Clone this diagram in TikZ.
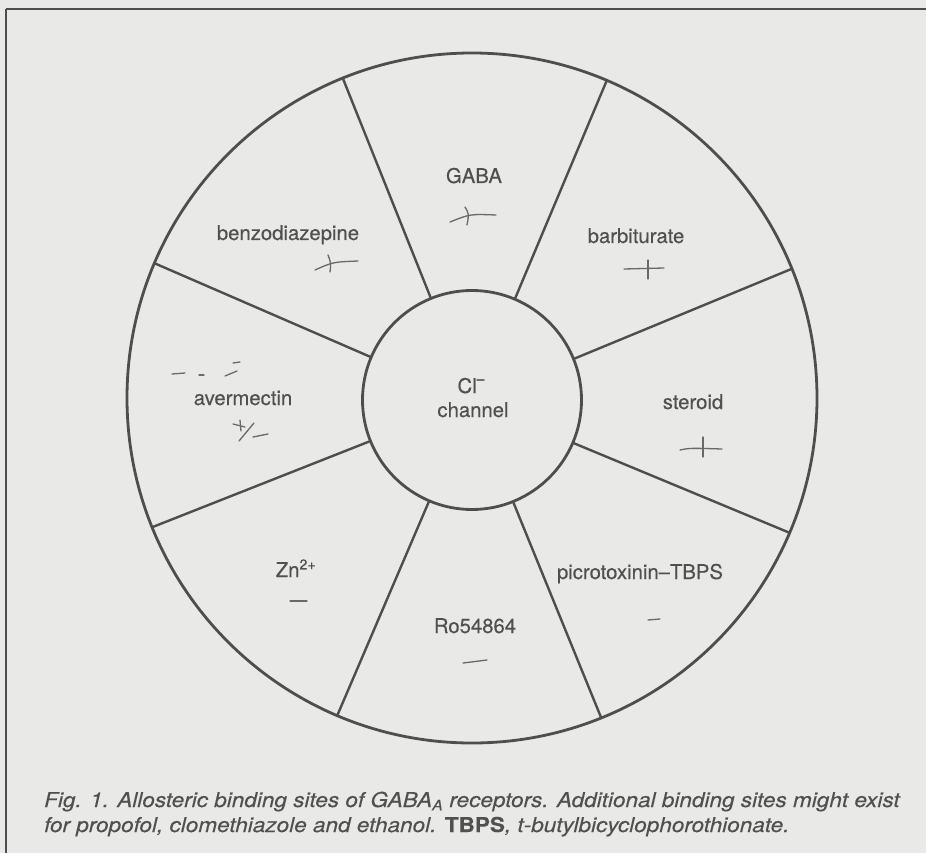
\documentclass[tikz,border=0pt]{standalone}
\usepackage{fontspec}
\setmainfont{TeX Gyre Heros}
\newfontfamily\labelfont[FakeBold=0.35]{TeX Gyre Heros}
\newfontfamily\capfont[FakeStretch=1.1,FakeBold=0.3]{TeX Gyre Heros}
\begin{document}
\definecolor{paper}{RGB}{233,233,231}
\definecolor{ink}{RGB}{78,78,78}
\definecolor{txt}{RGB}{80,80,80}
\definecolor{pencil}{RGB}{105,105,105}
\begin{tikzpicture}[x=1pt,y=-1pt,
  ring/.style={circle,draw=ink,line width=2.8pt,inner sep=0pt,outer sep=0pt},
  spoke/.style={draw=ink,line width=2.4pt},
  site/.style={text=txt,font=\labelfont\fontsize{20.3}{23}\selectfont,inner sep=0pt,anchor=base},
  caption/.style={text=txt,font=\capfont\fontsize{20.5}{24}\selectfont\itshape,inner sep=0pt,anchor=base west},
  pen/.style={draw=pencil,line width=1.3pt,line cap=round}]
% page and frame
\fill[paper] (0,0) rectangle (926,853);
\useasboundingbox (0,0) rectangle (926,853);
\draw[ink,line width=2.6pt] (6,9) -- (926,9);
\draw[ink,line width=1.6pt] (6,9) -- (6,853);

% receptor rings
\node[ring,minimum size=690pt] (outer) at (472,398) {};
\node[ring,minimum size=219pt] (inner) at (472,400) {};

% sector boundaries
\foreach \a in {22.5,67.5,112.5,157.5,202.5,247.5,292.5,337.5}
  \draw[spoke] (inner.\a) -- (outer.\a);

% channel
\node[site] (cl) at (471,393) {Cl\raisebox{0.45em}{\fontsize{14}{14}\selectfont –}};
\node[site] (chan) at (473,417) {channel};

% binding sites
\node[site] (gaba) at (474,183) {GABA};
\node[site] (benzo) at (288,240) {benzodiazepine};
\node[site] (barb) at (636,243) {barbiturate};
\node[site] (ster) at (693,409) {steroid};
\node[site] (aver) at (243,405) {avermectin};
\node[site] (zn) at (296,577) {Zn\textsuperscript{2+}};
\node[site] (ro) at (475,633) {Ro54864};
\node[site] (picro) at (640,579) {picrotoxinin–TBPS};

% pencilled effects
\draw[pen] (450,222) .. controls (470,214) .. (496,215);
\draw[pen] (465,207) .. controls (469,214) .. (467,225);
\draw[pen] (315,270) .. controls (333,262) .. (358,261);
\draw[pen] (328,255) .. controls (331,263) .. (330,272);
\draw[pen] (624,269) -- (664,268);
\draw[pen] (648,260) -- (648,279);
\draw[pen] (680,450) .. controls (690,448) .. (722,449);
\draw[pen] (703,437) -- (703,457);
\draw[pen] (172,374) -- (185,373);
\draw[pen] (199,375) -- (204,375);
\draw[pen] (225,376) .. controls (231,374) .. (237,371);
\draw[pen] (233,363) -- (240,362);
\draw[pen] (233,424) -- (245,427);
\draw[pen] (240,420) -- (241,431);
\draw[pen] (239,441) -- (254,423);
\draw[pen] (253,437) -- (268,434);
\draw[pen] (290,601) -- (307,601);
\draw[pen] (463,663) .. controls (475,661) .. (487,660);
\draw[pen] (648,620) -- (660,619);

% caption
\node[caption] (cap1) at (44,807) {Fig. 1. Allosteric binding sites of GABA\textsubscript{A} receptors. Additional binding sites might exist};
\node[caption] (cap2) at (44,832) {for propofol, clomethiazole and ethanol. {\upshape\bfseries TBPS}, t-butylbicyclophorothionate.};
\end{tikzpicture}
\end{document}
